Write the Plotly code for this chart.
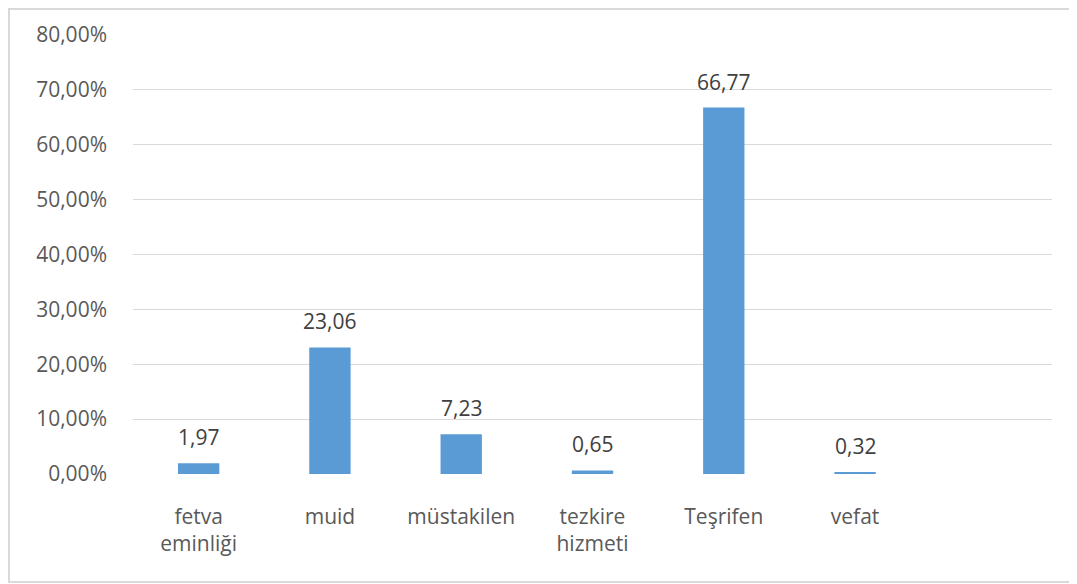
import plotly.graph_objects as go

categories = ["fetva<br>eminliği", "muid", "müstakilen", "tezkire<br>hizmeti", "Teşrifen", "vefat"]
values_pct = [1.97, 23.06, 7.23, 0.65, 66.77, 0.32]
y_ticks = [0, 0.1, 0.2, 0.3, 0.4, 0.5, 0.6, 0.7, 0.8]

W, H = 1077, 584
OFF = 8  # page body margin
L, R, T, B = 133 - OFF, 25 + OFF, 35 - OFF, 110 + OFF
pw, ph = W - L - R, H - T - B
FONT = "Open Sans, Lato, sans-serif"

fig = go.Figure()
fig.add_trace(go.Bar(
    x=categories,
    y=[v / 100 for v in values_pct],
    marker=dict(color="#5b9bd5", line=dict(width=0)),
    width=0.315,
    hoverinfo="x+y",
))

for c, v in zip(categories, values_pct):
    fig.add_annotation(
        x=c, y=v / 100, xref="x", yref="y",
        text=f"{v:.2f}".replace(".", ","),
        showarrow=False, yanchor="bottom", yshift=10,
        font=dict(family=FONT, size=21, color="#404040"),
    )

fig.update_layout(
    width=W, height=H,
    margin=dict(l=L, r=R, t=T, b=B),
    paper_bgcolor="white", plot_bgcolor="white",
    separators=",.",
    font=dict(family=FONT, size=21, color="#595959"),
    showlegend=False,
    xaxis=dict(
        type="category",
        range=[-0.5, 6.5],
        showgrid=False, zeroline=False, showline=False,
        ticks="", ticklabelstandoff=28,
        tickfont=dict(family=FONT, size=21, color="#595959"),
    ),
    yaxis=dict(
        range=[0, 0.8],
        tickvals=y_ticks,
        tickformat=".2%",
        showgrid=True, gridcolor="#d9d9d9", gridwidth=1,
        zeroline=False, showline=False,
        ticks="", ticklabelstandoff=25,
        tickfont=dict(family=FONT, size=21, color="#595959"),
    ),
    shapes=[dict(
        type="rect", xref="paper", yref="paper",
        x0=(1 - L) / pw, x1=(W + 20 - L) / pw,
        y0=(H - B - 574) / ph, y1=(H - B - 1) / ph,
        line=dict(color="#d9d9d9", width=2), fillcolor="rgba(0,0,0,0)",
        layer="below",
    )],
)

fig.write_html("out.html")
